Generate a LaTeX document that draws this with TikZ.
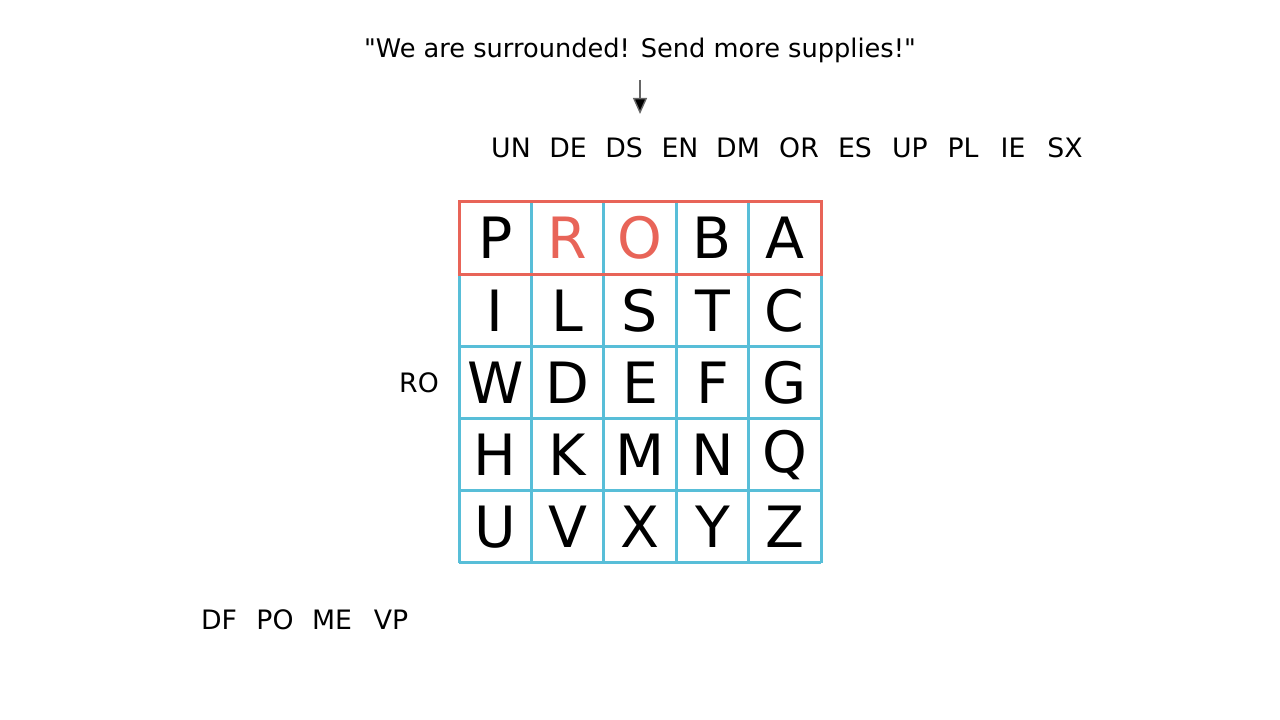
\documentclass[tikz,border=0pt]{standalone}
\usepackage{fontspec}
\setmainfont{DejaVu Sans}[Ligatures=TeXOff]
\usetikzlibrary{arrows.meta}
\definecolor{gridblue}{RGB}{88,190,216}
\definecolor{rowred}{RGB}{232,100,88}
\begin{document}
\begin{tikzpicture}
		\tikzset{cell/.style={font=\fontsize{16.2}{18}\selectfont, inner sep=0pt, anchor=center}}
		\tikzset{pair/.style={font=\fontsize{7.6}{9}\selectfont, inner sep=0pt, anchor=center}}
		\tikzset{edge/.style={->, draw=black!60, line width=0.4pt, >={Triangle[length=1.6mm, width=1.4mm, fill=black]}}}
		\tikzset{gridline/.style={gridblue, line width=0.85pt}}
		\useasboundingbox (0,0) rectangle (12.8,7.2);
		%message
		\node[pair, font=\fontsize{7.3}{9}\selectfont] (msg) at (6.40, 6.70) {"We are surrounded! Send more supplies!"};
		\coordinate (atop) at (6.40, 6.40);
		\coordinate (abot) at (6.40, 6.06);
		\draw[edge] (atop) -- (abot);
		%digraphs
		\foreach \x/\t in {5.11/UN, 5.68/DE, 6.24/DS, 6.80/EN, 7.38/DM, 7.99/OR, 8.55/ES, 9.10/UP, 9.63/PL, 10.13/IE, 10.65/SX}
			\node[pair] (p-\t) at (\x, 5.72) {\t};
		\node[pair] (ro) at (4.19, 3.37) {RO};
		\foreach \x/\t in {2.19/DF, 2.75/PO, 3.32/ME, 3.91/VP}
			\node[pair] (q-\t) at (\x, 1.00) {\t};
		%grid
		\foreach \i in {0,...,5}{
			\draw[gridline] ({4.59+0.724*\i}, 1.57) -- ({4.59+0.724*\i}, 5.18);
			\draw[gridline] (4.59, {1.57+0.722*\i}) -- (8.21, {1.57+0.722*\i});
		}
		\foreach \t/\col [count=\i from 0] in {P/black,R/rowred,O/rowred,B/black,A/black,I/black,L/black,S/black,T/black,C/black,W/black,D/black,E/black,F/black,G/black,H/black,K/black,M/black,N/black,Q/black,U/black,V/black,X/black,Y/black,Z/black}{
			\pgfmathtruncatemacro{\c}{mod(\i,5)}
			\pgfmathtruncatemacro{\r}{int(\i/5)}
			\node[cell, text=\col] (k-\t) at ({4.59+0.724*(\c+0.5)}, {5.18-0.722*(\r+0.5)}) {\t};
		}
		\draw[rowred, line width=0.85pt] (4.59, 4.458) rectangle (8.21, 5.18);
\end{tikzpicture}
\end{document}
